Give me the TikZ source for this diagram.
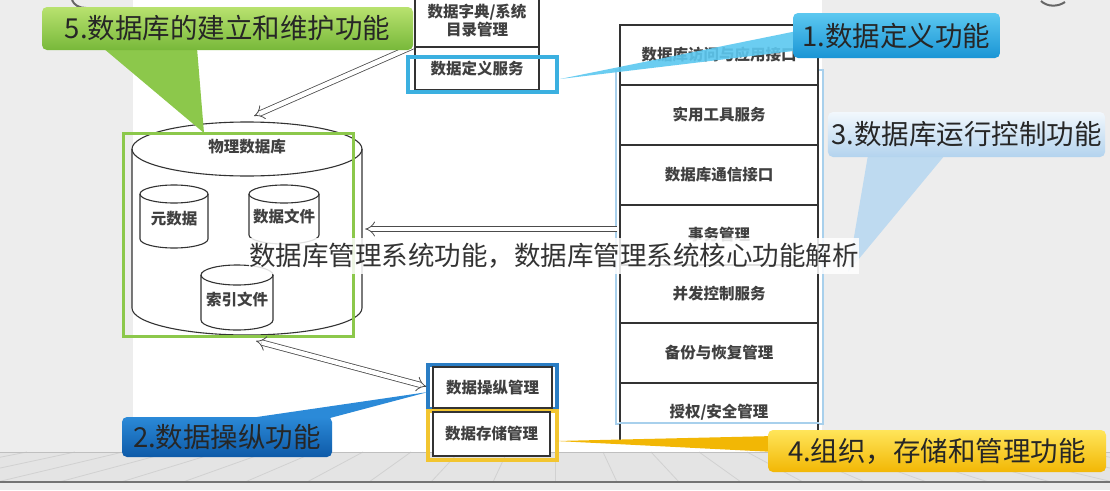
\documentclass[tikz,border=0pt]{standalone}
\usepackage{fontspec}
\setmainfont{Noto Sans CJK SC}
\usetikzlibrary{arrows.meta,calc}
\definecolor{bggray}{HTML}{EDEDED}
\definecolor{floorgray}{HTML}{E4E4E4}
\definecolor{hlcyan}{HTML}{3BB0E0}
\definecolor{hlblue}{HTML}{2A7DC4}
\definecolor{hlyellow}{HTML}{F2C530}
\definecolor{hlgreen}{HTML}{8CC84B}
\definecolor{hllblue}{HTML}{A8D0EC}
\definecolor{gtop}{HTML}{B8E26F}
\definecolor{gbot}{HTML}{78B83A}
\definecolor{ctop}{HTML}{5CC8F0}
\definecolor{cbot}{HTML}{1A95D5}
\definecolor{btop}{HTML}{2B8AD8}
\definecolor{bbot}{HTML}{0E5AA8}
\definecolor{ltop}{HTML}{F2F8FD}
\definecolor{lbot}{HTML}{B3D3EE}
\definecolor{ytop}{HTML}{FFE55A}
\definecolor{ybot}{HTML}{F2B705}
\definecolor{boxline}{HTML}{333333}
\begin{document}
\begin{tikzpicture}[x=1pt,y=-1pt,
  cyl/.style={draw=boxline, line width=1.1pt, fill=white},
  cell/.style={draw=boxline, line width=1.1pt, fill=white, inner sep=0pt,
    font=\fontsize{15.5}{18}\selectfont\bfseries, text=black!75, align=center},
  ghost/.style={inner sep=0pt, draw=none},
  lbl/.style={font=\fontsize{15.5}{18}\selectfont\bfseries, text=black!75, align=center},
  dbl/.style={draw=black!70, line width=0.8pt, double=white, double distance=4.5pt},
  callout/.style={rounded corners=5pt, draw=none},
  ctext/.style={font=\fontsize{27.5}{30}\selectfont, text=black!85}
]
\useasboundingbox (0,0) rectangle (1110,490);
% background
\fill[bggray] (0,0) rectangle (1110,490);
\fill[white] (133,0) rectangle (822,452);
\fill[floorgray] (0,452) rectangle (1110,482);
\foreach \i in {-11,...,11} {
  \draw[black!18, line width=0.8pt] ({555+\i*48},452) -- ({555+\i*62},482);
}
\draw[black!25, line width=0.8pt] (0,452) -- (1110,452);
\draw[black!55, line width=1.5pt] (0,482) -- (1110,482);
\fill[black!8] (0,483) rectangle (1110,490);
\draw[black!60, line width=2pt] (72,0) .. controls (74,5) and (79,8) .. (86,8);
\draw[black!60, line width=2pt] (1041,1) .. controls (1047,7) and (1058,7) .. (1065,2);

% physical database cylinder
\filldraw[cyl] (132,149) -- (132,308) arc[start angle=180, end angle=360, x radius=115pt, y radius=27pt]
  -- (362,149) arc[start angle=0, end angle=180, x radius=115pt, y radius=27pt] -- cycle;
\draw[cyl, fill=none] (132,149) arc[start angle=180, end angle=360, x radius=115pt, y radius=27pt];
\node[ghost, minimum width=230pt, minimum height=213pt] (pdb) at (247,228.5) {};
\node[lbl] (pdbl) at (247,147) {物理数据库};
% inner cylinders
\filldraw[cyl] (140,194) -- (140,239) arc[start angle=180, end angle=360, x radius=34pt, y radius=9pt]
  -- (208,194) arc[start angle=0, end angle=180, x radius=34pt, y radius=9pt] -- cycle;
\draw[cyl, fill=none] (140,194) arc[start angle=180, end angle=360, x radius=34pt, y radius=9pt];
\node[lbl] (meta) at (174,219) {元数据};
\filldraw[cyl] (249,194) -- (249,235) arc[start angle=180, end angle=360, x radius=35pt, y radius=9pt]
  -- (319,194) arc[start angle=0, end angle=180, x radius=35pt, y radius=9pt] -- cycle;
\draw[cyl, fill=none] (249,194) arc[start angle=180, end angle=360, x radius=35pt, y radius=9pt];
\node[lbl] (dfile) at (284,217) {数据文件};
\filldraw[cyl] (201,275) -- (201,320) arc[start angle=180, end angle=360, x radius=36pt, y radius=10pt]
  -- (273,275) arc[start angle=0, end angle=180, x radius=36pt, y radius=10pt] -- cycle;
\draw[cyl, fill=none] (201,275) arc[start angle=180, end angle=360, x radius=36pt, y radius=10pt];
\node[lbl] (ifile) at (237,300) {索引文件};
% green highlight
\draw[hlgreen, line width=3pt] (123,133) rectangle (353,336);

% left top stack
\node[cell, minimum width=124pt, minimum height=52pt] (d1) at (477,21) {数据字典/系统\\目录管理};
\node[cell, minimum width=124pt, minimum height=43pt] (d2) at (477,68.5) {数据定义服务};
\draw[hlcyan, line width=3.5pt] (408,57) rectangle (557,92);

% right stack
\draw[hllblue, line width=2.5pt] (616,70) rectangle (823,424);
\node[cell, minimum width=198pt, minimum height=60pt] (r1) at (719,55) {数据库访问与应用接口};
\node[cell, minimum width=198pt, minimum height=60pt] (r2) at (719,115) {实用工具服务};
\node[cell, minimum width=198pt, minimum height=60pt] (r3) at (719,175) {数据库通信接口};
\node[cell, minimum width=198pt, minimum height=60pt] (r4) at (719,235) {事务管理};
\node[cell, minimum width=198pt, minimum height=58pt] (r5) at (719,294) {并发控制服务};
\node[cell, minimum width=198pt, minimum height=60pt] (r6) at (719,353) {备份与恢复管理};
\node[cell, minimum width=198pt, minimum height=59pt] (r7) at (719,412.5) {授权/安全管理};
\draw[hllblue, line width=1.5pt] (r7.west |- 0,423) -- (r7.east |- 0,423);

% bottom left boxes
\draw[hlblue, line width=3.5pt] (428,365) rectangle (557,409);
\node[cell, minimum width=119pt, minimum height=41pt] (m1) at (492.5,387.5) {数据操纵管理};
\draw[hlyellow, line width=3.5pt] (428,411) rectangle (557,460);
\node[cell, minimum width=117pt, minimum height=44pt] (s1) at (491.5,434) {数据存储管理};

% arrows
\coordinate (a1s) at ($(d1.south west)+(-2,-1)$);
\coordinate (a1e) at (254,116);
\draw[dbl, -{Implies}] (a1s) -- (a1e);
\coordinate (a2s) at ($(r4.west)+(-2,-6)$);
\coordinate (a2e) at (pdb.east |- a2s);
\draw[dbl, -{Implies}] (a2s) -- ($(a2e)+(3,0)$);
\coordinate (a3s) at (256,341);
\coordinate (a3e) at ($(m1.west)+(-6,-1)$);
\draw[dbl, {Implies}-{Implies}] (a3s) -- (a3e);

% callout 5
\fill[hlgreen] (103,48) -- (197,48) -- (204,133) -- cycle;
\node[callout, top color=gtop, bottom color=gbot, minimum width=371pt, minimum height=43pt, ctext] (c5) at (227.5,28.5) {5.数据库的建立和维护功能};
% callout 1
\fill[ctop, opacity=0.9] (802,30) -- (802,50) -- (560,79) -- cycle;
\node[callout, top color=ctop, bottom color=cbot, minimum width=207pt, minimum height=45pt, ctext] (c1) at (896.5,35.5) {1.数据定义功能};
% callout 3
\fill[lbot!85!white] (868,155) -- (945,155) -- (848,272) -- cycle;
\node[callout, top color=ltop, bottom color=lbot, minimum width=277pt, minimum height=45pt, ctext] (c3) at (966.5,134.5) {3.数据库运行控制功能};
% callout 4
\fill[ybot] (775,436) -- (775,452) -- (556,441) -- cycle;
\node[callout, top color=ytop, bottom color=ybot, minimum width=338pt, minimum height=42pt, ctext] (c4) at (937,451) {4.组织，存储和管理功能};
% callout 2
\fill[btop] (250,418) -- (330,418) -- (428,392) -- cycle;
\node[callout, top color=btop, bottom color=bbot, minimum width=210pt, minimum height=40pt, ctext] (c2) at (227,437) {2.数据操纵功能};

% caption overlay
\node[fill=white, fill opacity=0.85, text opacity=1, minimum width=608pt, minimum height=36pt, inner sep=0pt,
  font=\fontsize{26.5}{30}\selectfont, text=black!80] (cap) at (554,256) {数据库管理系统功能，数据库管理系统核心功能解析};
\end{tikzpicture}
\end{document}
